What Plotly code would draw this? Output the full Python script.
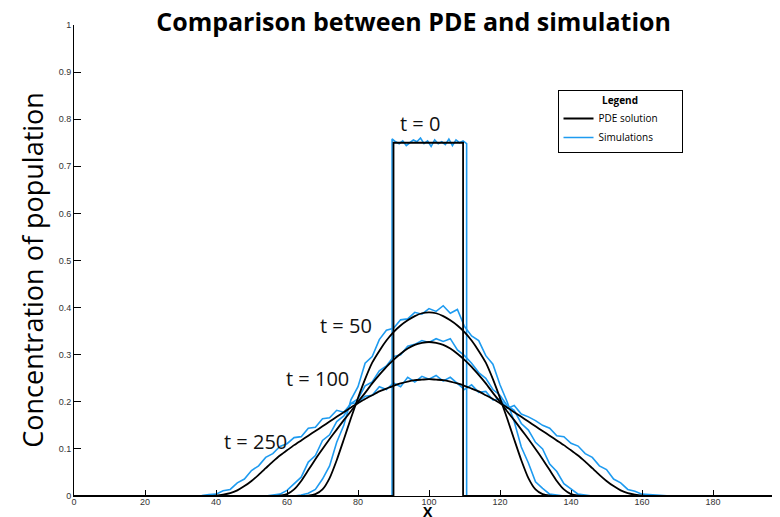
import plotly.graph_objects as go

# ---------------- data ----------------
x_domain = [0, 200]
x_grid = list(range(30, 171, 2))  # 30, 32, ..., 170

# PDE solution at t = 0 (step)
pde0_x = [0, 90, 90, 109.6, 109.6, 200]
pde0_y = [0, 0, 0.75, 0.75, 0, 0]

# PDE solutions on x_grid
pde50 = [0]*17 + [0.000, 0.001, 0.004, 0.014, 0.038, 0.076, 0.120, 0.165, 0.208, 0.248, 0.283, 0.308, 0.330, 0.348, 0.362, 0.373, 0.382, 0.388,
         0.390,
         0.388, 0.382, 0.373, 0.362, 0.348, 0.330, 0.308, 0.283, 0.248, 0.208, 0.165, 0.120, 0.076, 0.038, 0.014, 0.004, 0.001, 0.000] + [0]*17
pde100 = [0]*14 + [0.001, 0.004, 0.014, 0.032, 0.055, 0.078, 0.100, 0.121, 0.141, 0.161, 0.180, 0.200, 0.219, 0.239, 0.257, 0.274, 0.289, 0.302, 0.313, 0.321, 0.325,
          0.327,
          0.325, 0.321, 0.313, 0.302, 0.289, 0.274, 0.257, 0.239, 0.219, 0.200, 0.180, 0.161, 0.141, 0.121, 0.100, 0.078, 0.055, 0.032, 0.014, 0.004, 0.001] + [0]*14
pde250 = [0]*5 + [0.001, 0.003, 0.006, 0.012, 0.021, 0.032, 0.045, 0.059, 0.073, 0.086,
                  0.097, 0.108, 0.118, 0.128, 0.138, 0.148, 0.158, 0.168, 0.178, 0.188,
                  0.197, 0.206, 0.214, 0.222, 0.228, 0.234, 0.239, 0.243, 0.246, 0.247,
                  0.248,
                  0.247, 0.246, 0.243, 0.239, 0.234, 0.228, 0.222, 0.214, 0.206, 0.197,
                  0.188, 0.178, 0.168, 0.158, 0.148, 0.138, 0.128, 0.118, 0.108, 0.097,
                  0.086, 0.073, 0.059, 0.045, 0.032, 0.021, 0.012, 0.006, 0.003, 0.001] + [0]*5

# Simulation at t = 0 (top of the step)
sim0_x = [89.6 + k for k in range(22)]
sim0_top = [0.758, 0.752, 0.748, 0.754, 0.744, 0.750, 0.756, 0.752, 0.760, 0.748, 0.754,
            0.742, 0.756, 0.748, 0.752, 0.746, 0.758, 0.744, 0.756, 0.750, 0.754, 0.748]

# Simulations on x_grid
sim50 = [0]*16 + [0.000, 0.002, 0.006, 0.014, 0.036, 0.064, 0.114, 0.150, 0.204, 0.232, 0.282, 0.296, 0.332, 0.352, 0.356, 0.374, 0.376, 0.390, 0.386,
         0.398,
         0.392, 0.404, 0.388, 0.396, 0.360, 0.340, 0.330, 0.298, 0.280, 0.236, 0.200, 0.158, 0.104, 0.070, 0.030, 0.016, 0.004, 0.002, 0.000] + [0]*16
sim100 = [0]*12 + [0.000, 0.002, 0.004, 0.012, 0.026, 0.040, 0.072, 0.086, 0.118, 0.130, 0.158, 0.170, 0.196, 0.206, 0.234, 0.242, 0.266, 0.276, 0.296, 0.300, 0.318, 0.322, 0.330,
          0.326,
          0.334, 0.328, 0.334, 0.310, 0.298, 0.282, 0.262, 0.250, 0.226, 0.214, 0.192, 0.182, 0.154, 0.140, 0.114, 0.100, 0.068, 0.052, 0.026, 0.014, 0.004, 0.002, 0.000] + [0]*12
sim250 = [0]*2 + [0.000, 0.001, 0.003, 0.004, 0.011, 0.014, 0.028, 0.036, 0.054, 0.064,
                  0.082, 0.090, 0.105, 0.111, 0.124, 0.126, 0.144, 0.146, 0.164, 0.166,
                  0.182, 0.178, 0.196, 0.198, 0.212, 0.214, 0.232, 0.226, 0.240, 0.232,
                  0.252, 0.242, 0.254, 0.248, 0.256, 0.244, 0.252, 0.240, 0.226, 0.236,
                  0.220, 0.222, 0.204, 0.206, 0.186, 0.192, 0.174, 0.168, 0.160, 0.150,
                  0.144, 0.128, 0.126, 0.112, 0.106, 0.090, 0.082, 0.064, 0.056, 0.036,
                  0.028, 0.014, 0.010, 0.004, 0.003, 0.001, 0.000] + [0]*2

labels = ["t = 0", "t = 50", "t = 100", "t = 250"]
label_x = [97.5, 76.5, 68.5, 51]
label_y = [0.79, 0.363, 0.25, 0.115]

x_ticks = list(range(0, 201, 20))

BLACK = "#000000"
BLUE = "#1e9bf0"
FONT = "Open Sans"

# ---------------- figure ----------------
fig = go.Figure()

sim_sets = [
    ([sim0_x[0]] + sim0_x + [sim0_x[-1]], [0] + sim0_top + [0]),
    (x_grid, sim50),
    (x_grid, sim100),
    (x_grid, sim250),
]
for i, (xs, ys) in enumerate(sim_sets):
    fig.add_trace(go.Scatter(x=xs, y=ys, mode="lines", line=dict(color=BLUE, width=1.6),
                             name="Simulations", legendgroup="sim", showlegend=(i == 0),
                             legendrank=2, hoverinfo="skip"))

pde_sets = [
    (pde0_x, pde0_y),
    ([x_domain[0]] + x_grid + [x_domain[1]], [0] + pde50 + [0]),
    ([x_domain[0]] + x_grid + [x_domain[1]], [0] + pde100 + [0]),
    ([x_domain[0]] + x_grid + [x_domain[1]], [0] + pde250 + [0]),
]
for i, (xs, ys) in enumerate(pde_sets):
    fig.add_trace(go.Scatter(x=xs, y=ys, mode="lines",
                             line=dict(color=BLACK, width=1.8, shape="linear" if i == 0 else "spline", smoothing=0.6),
                             name="PDE solution" + "&nbsp;" * 7, legendgroup="pde", showlegend=(i == 0),
                             legendrank=1, hoverinfo="skip"))

for txt, lx, ly in zip(labels, label_x, label_y):
    fig.add_annotation(x=lx, y=ly, text=txt, showarrow=False, xref="x", yref="y",
                       font=dict(family=FONT, size=20, color="#111111"))

# axis titles
fig.add_annotation(x=-0.058, y=0.48, xref="paper", yref="paper", text="Concentration of population",
                   textangle=-90, showarrow=False, xanchor="center", yanchor="middle",
                   font=dict(family=FONT, size=27, color="black"))
fig.add_annotation(x=0.499, y=-0.033, xref="paper", yref="paper", text="<b>X</b>",
                   showarrow=False, xanchor="center", yanchor="middle", borderpad=0,
                   font=dict(family=FONT, size=14, color="black"))

fig.update_layout(
    width=780, height=517,
    margin=dict(l=66, r=4, t=17, b=29, autoexpand=False),
    paper_bgcolor="white", plot_bgcolor="white",
    title=dict(text="<b>Comparison between PDE and simulation</b>",
               x=0.52, xanchor="center", y=0.972, yanchor="middle",
               font=dict(family=FONT, size=25, color="black")),
    showlegend=True,
    legend=dict(x=0.681, y=0.862, xanchor="left", yanchor="top",
                bordercolor="black", borderwidth=1, bgcolor="white",
                font=dict(family=FONT, size=10, color="black"),
                title=dict(text="<b>Legend</b>", side="top center",
                           font=dict(family=FONT, size=10, color="black")),
                itemwidth=30, tracegroupgap=0),
    xaxis=dict(range=x_domain, tickvals=x_ticks, ticks="inside", ticklen=6, tickcolor="black",
               showline=True, linecolor="black", linewidth=1, showgrid=False, zeroline=False,
               ticklabeloverflow="allow", ticklabelstandoff=-3, automargin=False,
               tickfont=dict(family="Liberation Sans", size=9, color="#333333")),
    yaxis=dict(range=[0, 1], dtick=0.1, ticks="inside", ticklen=7, tickcolor="black",
               showline=True, linecolor="black", linewidth=1, showgrid=False, zeroline=False,
               automargin=False,
               tickfont=dict(family="Liberation Sans", size=9, color="#333333")),
)

fig.write_html("out.html")
